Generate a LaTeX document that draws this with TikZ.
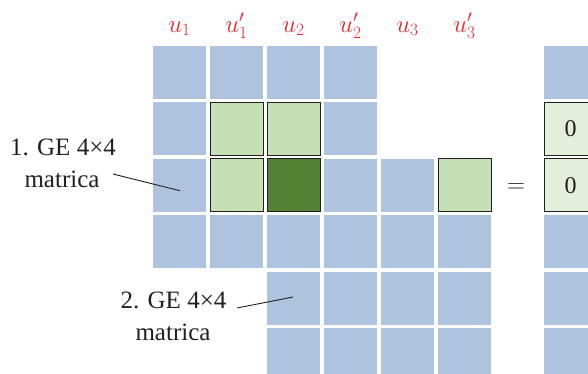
\documentclass[tikz,border=0pt]{standalone}
\usepackage{fontspec}
\setmainfont{Liberation Serif}
\definecolor{cellblue}{RGB}{174,196,222}
\definecolor{lgreen}{RGB}{197,224,180}
\definecolor{dgreen}{RGB}{84,130,53}
\definecolor{vlgreen}{RGB}{226,239,218}
\definecolor{lblred}{RGB}{232,36,46}
\definecolor{ink}{RGB}{35,31,32}
\tikzset{
  cell/.style={minimum size=53pt, inner sep=0pt, outer sep=0pt, anchor=north west,
    font=\fontsize{24}{28}\selectfont, text=ink},
  bcell/.style={cell, fill=cellblue},
  lgcell/.style={cell, fill=lgreen, draw=ink, line width=1pt},
  dgcell/.style={cell, fill=dgreen, draw=ink, line width=1pt},
  zcell/.style={cell, fill=vlgreen, draw=ink, line width=1pt},
  ulbl/.style={text=lblred, anchor=base, inner sep=0pt, font=\fontsize{26}{30}\selectfont},
  gelbl/.style={text=ink, anchor=base, inner sep=0pt, font=\fontsize{25}{30}\selectfont},
  pointer/.style={draw=ink, line width=0.9pt}
}
\begin{document}
\begin{tikzpicture}[x=1pt,y=-1pt]
\useasboundingbox (0,0) rectangle (588,373);
% cells
\foreach \r/\c/\s/\t in {
  1/1/bcell/,1/2/bcell/,1/3/bcell/,1/4/bcell/,1/7/bcell/,
  2/1/bcell/,2/2/lgcell/,2/3/lgcell/,2/4/bcell/,2/7/zcell/0,
  3/1/bcell/,3/2/lgcell/,3/3/dgcell/,3/4/bcell/,3/5/bcell/,3/6/lgcell/,3/7/zcell/0,
  4/1/bcell/,4/2/bcell/,4/3/bcell/,4/4/bcell/,4/5/bcell/,4/6/bcell/,4/7/bcell/,
  5/3/bcell/,5/4/bcell/,5/5/bcell/,5/6/bcell/,5/7/bcell/,
  6/3/bcell/,6/4/bcell/,6/5/bcell/,6/6/bcell/,6/7/bcell/}{
  \pgfmathsetmacro\xx{\c==7 ? 544 : 153+57*(\c-1)}
  \pgfmathsetmacro\yy{46+56.4*(\r-1)}
  \node[\s] (c\r\c) at (\xx,\yy) {\t};
}
% column labels
\node[ulbl] (u1)  at (179.5,32) {$u_1$};
\node[ulbl] (u1p) at (236.5,32) {$u'_1$};
\node[ulbl] (u2)  at (293.5,32) {$u_2$};
\node[ulbl] (u2p) at (350.5,32) {$u'_2$};
\node[ulbl] (u3)  at (407.5,32) {$u_3$};
\node[ulbl] (u3p) at (464.5,32) {$u'_3$};
% equals sign
\node[text=ink, font=\fontsize{24}{28}\selectfont, inner sep=0pt] (eq) at (516,188) {$=$};
% label 1
\node[gelbl] (g1a) at (63,155.7) {1. GE 4×4};
\node[gelbl] (g1b) at (62,187.7) {matrica};
\coordinate (p1s) at (113,174);
\coordinate (p1e) at (180,190.7);
\draw[pointer] (p1s) -- (p1e);
% label 2
\node[gelbl] (g2a) at (173.5,308) {2. GE 4×4};
\node[gelbl] (g2b) at (173,340) {matrica};
\coordinate (p2s) at (237,308);
\coordinate (p2e) at (293,297);
\draw[pointer] (p2s) -- (p2e);
\end{tikzpicture}
\end{document}
